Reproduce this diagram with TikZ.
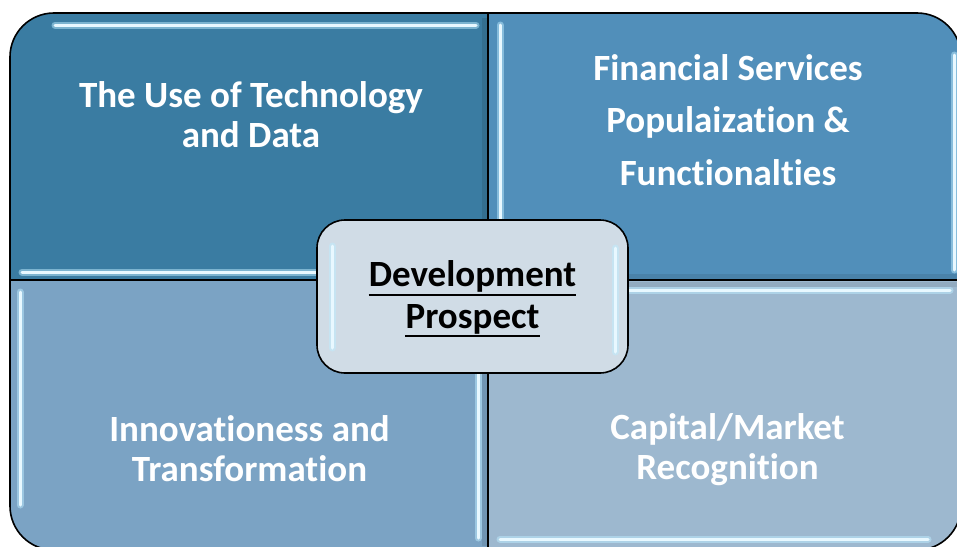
\documentclass[tikz,border=0pt]{standalone}
\usepackage{fontspec}
\setmainfont{Carlito}[Ligatures={NoCommon}]
\definecolor{qTL}{RGB}{58,124,162}
\definecolor{qTR}{RGB}{81,143,186}
\definecolor{qBL}{RGB}{123,163,196}
\definecolor{qBR}{RGB}{157,184,207}
\definecolor{cbox}{RGB}{208,220,230}
\definecolor{hl}{RGB}{190,236,255}
\begin{document}
\begin{tikzpicture}[x=1pt,y=-1pt,
  qtext/.style={text=white,font=\bfseries\fontsize{37}{37}\selectfont,anchor=base,inner sep=0pt},
  ctext/.style={text=black,font=\bfseries\fontsize{37}{37}\selectfont,anchor=base,inner sep=0pt},
  glow/.style={draw=hl,line width=7pt,opacity=0.5,line cap=round},
  core/.style={draw=hl!35!white,line width=3pt,line cap=round},
  shade/.style={line width=5pt,opacity=0.35},
  edge/.style={draw=black,line width=1.6pt}]
\useasboundingbox (0,0) rectangle (957,546);
\begin{scope}
  \clip[rounded corners=44pt] (10,13) rectangle (961,550);
  \fill[qTL] (0,0) rectangle (488,280);
  \fill[qTR] (488,0) rectangle (970,280);
  \fill[qBL] (0,280) rectangle (488,560);
  \fill[qBR] (488,280) rectangle (970,560);
  % darker bevel sides
  \draw[shade,draw=qTL!70!black] (484,18) -- (484,277);
  \draw[shade,draw=qBL!75!black] (484,284) -- (484,546);
  \draw[shade,draw=qTR!75!black] (492,276) -- (958,276);
  \draw[shade,draw=qBR!80!black] (492,284) -- (958,284);
  % highlight strips
  \foreach \s in {glow,core}{
    \draw[\s] (55,25) -- (476,25);
    \draw[\s] (22,272) -- (478,272);
    \draw[\s] (500,25) -- (500,270);
    \draw[\s] (954,55) -- (954,270);
    \draw[\s] (20,292) -- (20,505);
    \draw[\s] (478,292) -- (478,538);
    \draw[\s] (500,290) -- (950,290);
    \draw[\s] (500,539) -- (928,539);
  }
\end{scope}
\draw[edge] (488,13) -- (488,550);
\draw[edge] (10,280) -- (961,280);
\draw[edge,rounded corners=44pt] (10,13) rectangle (961,550);
% centre box
\node (box) [draw=black,line width=1.6pt,fill=cbox,rounded corners=28pt,
  minimum width=311pt,minimum height=153pt,inner sep=0pt] at (472.5,296.5) {};
\foreach \s in {glow,core}{
  \draw[\s] (332,246) -- (332,348);
  \draw[\s] (615,248) -- (615,352);
}
% texts
\node[qtext] (t1a) at (251,107) {The Use of Technology};
\node[qtext] (t1b) at (251,147) {and Data};
\node[qtext] (t2a) at (728,80) {Financial Services};
\node[qtext] (t2b) at (728,132) {Populaization \&};
\node[qtext] (t2c) at (728,185) {Functionalties};
\node[qtext] (t3a) at (249.5,441) {Innovationess and};
\node[qtext] (t3b) at (249.5,481) {Transformation};
\node[qtext] (t4a) at (727.5,439) {Capital/Market};
\node[qtext] (t4b) at (727.5,479) {Recognition};
\node[ctext] (dev) at (472.5,286) {Development};
\node[ctext] (pros) at (472.5,328) {Prospect};
\draw[line width=1.6pt] ([yshift=-9pt]dev.base west) -- ([yshift=-9pt]dev.base east);
\draw[line width=1.6pt] ([yshift=-8pt]pros.base west) -- ([yshift=-8pt]pros.base east);
\end{tikzpicture}
\end{document}
